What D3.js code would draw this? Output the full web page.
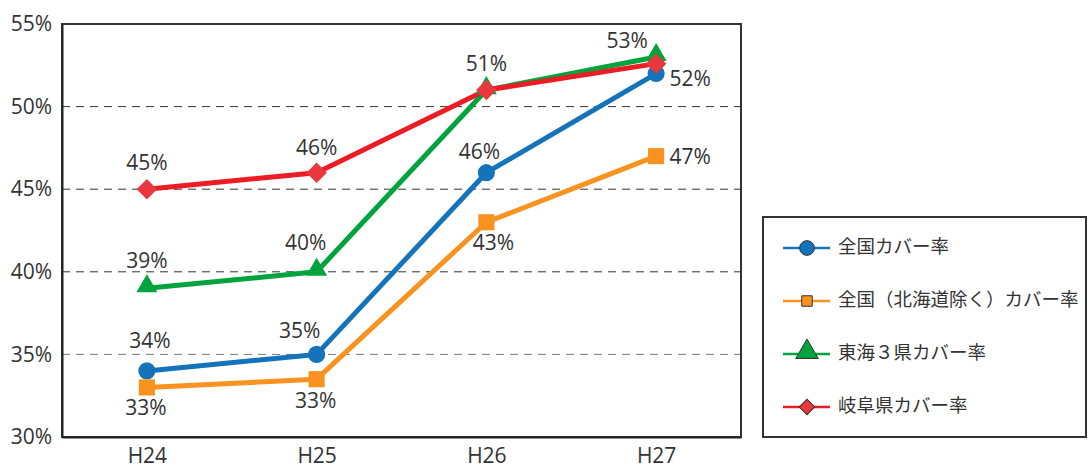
<!DOCTYPE html>
<html><head><meta charset="utf-8">
<script src="https://cdn.jsdelivr.net/npm/d3@7"></script>
<style>body{margin:0;background:#fff;} text{font-family:"Open Sans","Noto Sans CJK JP",sans-serif;}</style>
</head><body><svg id="c" width="1089" height="470"></svg>
<script>
const categories = ["H24","H25","H26","H27"];
const seriesNames = ["全国カバー率","全国（北海道除く）カバー率","東海３県カバー率","岐阜県カバー率"];
const valsZenkoku = [34, 35, 46, 52];
const valsExHokkaido = [33, 33.5, 43, 47];
const valsTokai = [39, 40, 51, 53];
const valsGifu = [45, 46, 51, 52.6];
const yTicks = [30, 35, 40, 45, 50, 55];
// labels: [series index, category index, text, dx, dy]
const labels = [
  [3,0,"45%",0,-25],[3,1,"46%",0,-23],
  [2,0,"39%",0,-26],[2,1,"40%",-11,-27],[3,2,"51%",0,-25],[2,3,"53%",-29,-15],
  [0,0,"34%",3,-29],[0,1,"35%",-17,-22],[0,2,"46%",-7,-19],[0,3,"52%",34,7],
  [1,0,"33%",-1,22],[1,1,"33%",-1,23],[1,2,"43%",7,22],[1,3,"47%",34,2]
];

const colors = ["#1473ba","#f7931e","#00a33e","#ec1c24"];
const markerFill = ["#1473ba","#f7931e","#00a33e","#e8383d"];
const shapes = [d3.symbolCircle, d3.symbolSquare, d3.symbolTriangle, d3.symbolSquare];
const rot = [0, 0, 0, 45];
const sizes = [230, 260, 190, 210];
const data = [valsZenkoku, valsExHokkaido, valsTokai, valsGifu];

const svg = d3.select("#c");
const L = 62, R = 741, T = 24, B = 437;
const x = d3.scalePoint().domain(categories).range([L, R]).padding(0.5);
const y = d3.scaleLinear().domain([30, 55]).range([B, T]);

// grid
svg.append("g").selectAll("line").data(yTicks.filter(v => v > 30 && v < 55)).join("line")
  .attr("x1", L).attr("x2", R).attr("y1", d => y(d)).attr("y2", d => y(d))
  .attr("stroke", d => d === 35 ? "#777" : "#333").attr("stroke-width", 1)
  .attr("stroke-dasharray", "8,6");

// frame
svg.append("rect").attr("x", L).attr("y", T).attr("width", R - L).attr("height", B - T)
  .attr("fill", "none").attr("stroke", "#333").attr("stroke-width", 2);

// y axis
const ya = svg.append("g").attr("transform", `translate(${L},0)`)
  .call(d3.axisLeft(y).tickValues(yTicks).tickFormat(d => d + "%").tickSize(0).tickPadding(10));
ya.select(".domain").attr("stroke", "#222").attr("stroke-width", 2);
ya.selectAll("text").attr("font-size", 21).attr("fill", "#333").attr("font-family", "Open Sans");

// x axis
const xa = svg.append("g").attr("transform", `translate(0,${B})`)
  .call(d3.axisBottom(x).tickSize(0).tickPadding(11));
xa.select(".domain").attr("stroke", "#222").attr("stroke-width", 2);
xa.selectAll("text").attr("font-size", 21).attr("fill", "#333").attr("font-family", "Open Sans");

const line = d3.line().x((d, i) => x(categories[i])).y(d => y(d));
data.forEach((vals, s) => {
  svg.append("path").datum(vals).attr("d", line).attr("fill", "none")
    .attr("stroke", colors[s]).attr("stroke-width", 5).attr("stroke-linejoin", "round");
});
data.forEach((vals, s) => {
  svg.append("g").selectAll("path").data(vals).join("path")
    .attr("transform", (d, i) => `translate(${x(categories[i])},${y(d) + (s===2?-2:0)}) rotate(${rot[s]})`)
    .attr("d", d3.symbol().type(shapes[s]).size(sizes[s]))
    .attr("fill", markerFill[s]);
});

// data labels
svg.append("g").selectAll("text").data(labels).join("text")
  .attr("x", d => x(categories[d[1]]) + d[3])
  .attr("y", d => y(data[d[0]][d[1]]) + d[4])
  .attr("text-anchor", "middle").attr("dominant-baseline", "middle")
  .attr("font-size", 21).attr("fill", "#333").text(d => d[2]);

// legend
const lg = svg.append("g");
lg.append("rect").attr("x", 763).attr("y", 217).attr("width", 323).attr("height", 220)
  .attr("fill", "#fff").attr("stroke", "#333").attr("stroke-width", 2);
const ly = [248, 301, 354, 407];
seriesNames.forEach((n, s) => {
  lg.append("line").attr("x1", 783).attr("x2", 830).attr("y1", ly[s]).attr("y2", ly[s])
    .attr("stroke", colors[s]).attr("stroke-width", 2.5);
  lg.append("path").attr("transform", `translate(807,${ly[s] + (s===2?-2:0)}) rotate(${rot[s]})`)
    .attr("d", d3.symbol().type(shapes[s]).size([170, 110, 220, 120][s]))
    .attr("fill", markerFill[s]).attr("stroke", "#333").attr("stroke-width", 1);
  lg.append("text").attr("x", 838).attr("y", ly[s]).attr("dominant-baseline", "middle")
    .attr("font-size", 18.5).attr("fill", "#333")
    .attr("font-family", "'Noto Sans CJK JP', sans-serif").text(n);
});
</script></body></html>
